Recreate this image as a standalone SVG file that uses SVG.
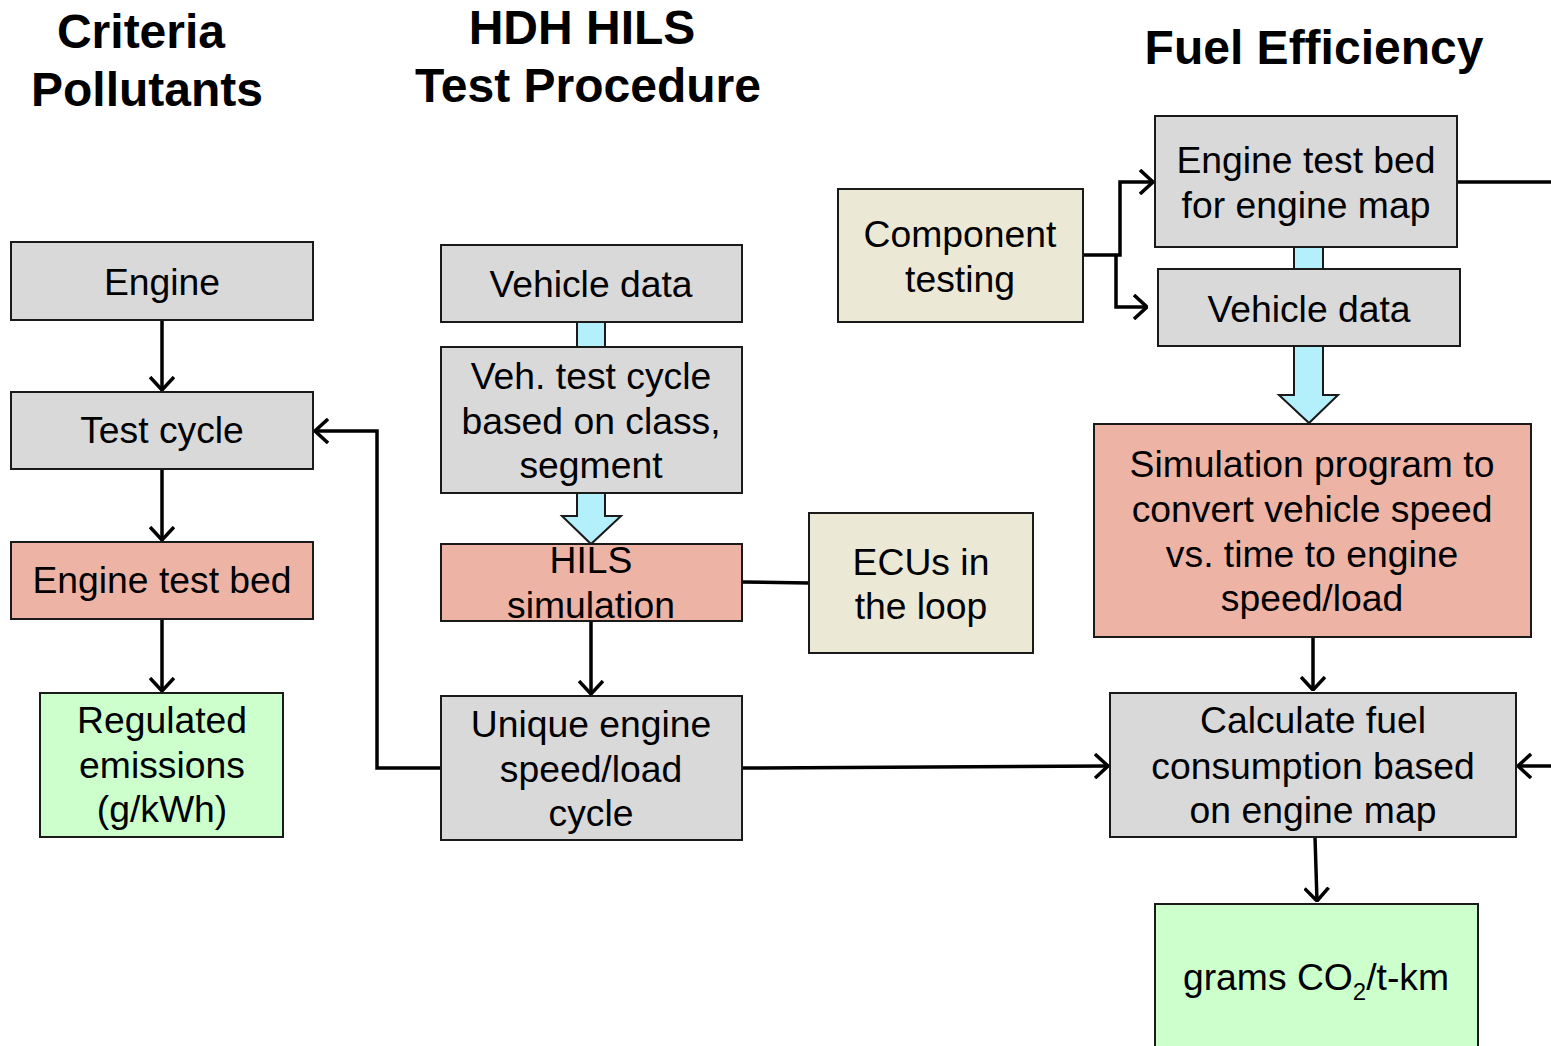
<svg xmlns="http://www.w3.org/2000/svg" width="1551" height="1046" viewBox="0 0 1551 1046">
<defs>
<style>
.box{stroke:#1a1a1a;stroke-width:2}
.gray{fill:#d9d9d9}
.sal{fill:#edb4a6}
.grn{fill:#ccffcc}
.beige{fill:#ece8d6}
.wide{fill:#b4f0fc;stroke:#1a1a1a;stroke-width:2}
text{font-family:"Liberation Sans",Arial,sans-serif;font-size:37.3px;fill:#000;text-anchor:middle}
.title{font-weight:bold;font-size:48px}
.conn{fill:none;stroke:#000;stroke-width:3.5}
</style>
<marker id="arr" viewBox="0 0 15 26" refX="14" refY="13" markerWidth="15" markerHeight="26" markerUnits="userSpaceOnUse" orient="auto">
<path d="M1,1 L14,13 L1,25" fill="none" stroke="#000" stroke-width="3.5"/>
</marker>
</defs>
<rect width="1551" height="1046" fill="#fff"/>
<g id="titles">
<text class="title" x="141" y="48">Criteria</text>
<text class="title" x="147" y="106">Pollutants</text>
<text class="title" x="582" y="44">HDH HILS</text>
<text class="title" x="588" y="102">Test Procedure</text>
<text class="title" x="1314" y="64">Fuel Efficiency</text>
</g>
<g id="wide-arrows">
<rect class="wide" x="577" y="322" width="28" height="25"/>
<path class="wide" d="M577,493 L577,516 L562,516 L591,544 L621,516 L605,516 L605,493 Z"/>
<rect class="wide" x="1294" y="247" width="29" height="22"/>
<path class="wide" d="M1294,346 L1294,395 L1279,395 L1309,423 L1338,395 L1323,395 L1323,346 Z"/>
</g>
<g id="connectors">
<line class="conn" x1="162" y1="320" x2="162" y2="390" marker-end="url(#arr)"/>
<line class="conn" x1="162" y1="469" x2="162" y2="540" marker-end="url(#arr)"/>
<line class="conn" x1="162" y1="619" x2="162" y2="691" marker-end="url(#arr)"/>
<polyline class="conn" points="441,768 377,768 377,431 315,431" marker-end="url(#arr)"/>
<line class="conn" x1="591" y1="621" x2="591" y2="694" marker-end="url(#arr)"/>
<line class="conn" x1="742" y1="582" x2="809" y2="583"/>
<line class="conn" x1="742" y1="768" x2="1108" y2="766" marker-end="url(#arr)"/>
<polyline class="conn" points="1083,255 1120,255 1120,182 1153,182" marker-end="url(#arr)"/>
<polyline class="conn" points="1116,255 1116,307 1147,307" marker-end="url(#arr)"/>
<line class="conn" x1="1457" y1="182" x2="1551" y2="182"/>
<line class="conn" x1="1551" y1="766" x2="1518" y2="766" marker-end="url(#arr)"/>
<line class="conn" x1="1313" y1="637" x2="1313" y2="690" marker-end="url(#arr)"/>
<line class="conn" x1="1315" y1="837" x2="1317" y2="901" marker-end="url(#arr)"/>
</g>
<g id="engine"><rect class="box gray" x="11" y="242" width="302" height="78"/><text x="162" y="295">Engine</text></g>
<g id="test-cycle"><rect class="box gray" x="11" y="392" width="302" height="77"/><text x="162" y="443">Test cycle</text></g>
<g id="engine-test-bed"><rect class="box sal" x="11" y="542" width="302" height="77"/><text x="162" y="593">Engine test bed</text></g>
<g id="regulated-emissions"><rect class="box grn" x="40" y="693" width="243" height="144"/><text x="162" y="733">Regulated</text><text x="162" y="778">emissions</text><text x="162" y="822">(g/kWh)</text></g>
<g id="vehicle-data-1"><rect class="box gray" x="441" y="245" width="301" height="77"/><text x="591" y="297">Vehicle data</text></g>
<g id="veh-test-cycle"><rect class="box gray" x="441" y="347" width="301" height="146"/><text x="591" y="389">Veh. test cycle</text><text x="591" y="434">based on class,</text><text x="591" y="478">segment</text></g>
<g id="hils-simulation"><rect class="box sal" x="441" y="544" width="301" height="77"/><text x="591" y="573">HILS</text><text x="591" y="618">simulation</text></g>
<g id="unique-cycle"><rect class="box gray" x="441" y="696" width="301" height="144"/><text x="591" y="737">Unique engine</text><text x="591" y="782">speed/load</text><text x="591" y="826">cycle</text></g>
<g id="ecus"><rect class="box beige" x="809" y="513" width="224" height="140"/><text x="921" y="575">ECUs in</text><text x="921" y="619">the loop</text></g>
<g id="component-testing"><rect class="box beige" x="838" y="189" width="245" height="133"/><text x="960" y="247">Component</text><text x="960" y="292">testing</text></g>
<g id="engine-test-bed-map"><rect class="box gray" x="1155" y="116" width="302" height="131"/><text x="1306" y="173">Engine test bed</text><text x="1306" y="218">for engine map</text></g>
<g id="vehicle-data-2"><rect class="box gray" x="1158" y="269" width="302" height="77"/><text x="1309" y="322">Vehicle data</text></g>
<g id="simulation-program"><rect class="box sal" x="1094" y="424" width="437" height="213"/><text x="1312" y="477">Simulation program to</text><text x="1312" y="522">convert vehicle speed</text><text x="1312" y="567">vs. time to engine</text><text x="1312" y="611">speed/load</text></g>
<g id="calculate-fuel"><rect class="box gray" x="1110" y="693" width="406" height="144"/><text x="1313" y="733">Calculate fuel</text><text x="1313" y="779">consumption based</text><text x="1313" y="823">on engine map</text></g>
<g id="grams-co2"><rect class="box grn" x="1155" y="904" width="323" height="150"/><text x="1316" y="990">grams CO<tspan font-size="24" dy="10">2</tspan><tspan dy="-10">/t-km</tspan></text></g>
</svg>
